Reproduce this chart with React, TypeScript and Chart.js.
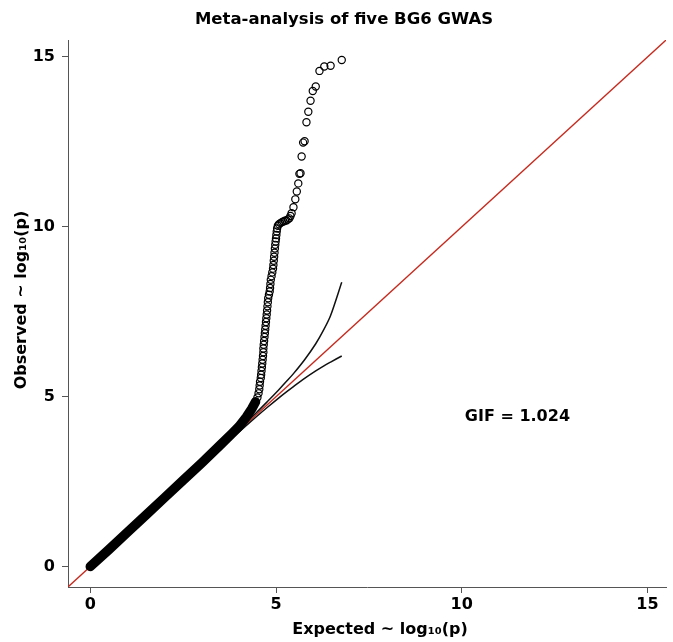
import React, { useEffect, useRef } from "react";
import { Chart, registerables } from "chart.js";

Chart.register(...registerables);

const TITLE = "Meta-analysis of five BG6 GWAS";
const X_TITLE = "Expected ~ log\u2081\u2080(p)";
const Y_TITLE = "Observed ~ log\u2081\u2080(p)";
const GIF_LABEL = "GIF = 1.024";
const GIF_POS = [11.5, 4.41];

const tickValues = [0, 5, 10, 15];
const axisMin = -0.6;
const axisMax = 15.5;

// dense bulk of points (drawn as a thick band)
const bandExpected = [0, 0.5, 1, 1.5, 2, 2.5, 3, 3.5, 3.8, 4.0, 4.2, 4.35, 4.45];
const bandObserved = [0, 0.5, 1.01, 1.52, 2.03, 2.54, 3.05, 3.58, 3.9, 4.12, 4.4, 4.65, 4.85];

// individual points in the upper tail
const tailExpected = [
  4.45, 4.5, 4.53, 4.55, 4.56, 4.57, 4.59, 4.6, 4.61, 4.62, 4.63, 4.64, 4.65, 4.66, 4.66,
  4.67, 4.68, 4.69, 4.7, 4.71, 4.72, 4.73, 4.74, 4.75, 4.76, 4.77, 4.78, 4.79, 4.81, 4.83,
  4.84, 4.85, 4.86, 4.88, 4.9, 4.92, 4.93, 4.94, 4.95, 4.96, 4.97, 4.98, 4.99, 5.0, 5.01,
  5.02, 5.03, 5.05, 5.08, 5.12, 5.16, 5.2, 5.24, 5.28, 5.32, 5.36, 5.39, 5.42, 5.47, 5.52,
  5.56, 5.6, 5.63, 5.66, 5.69, 5.73, 5.77, 5.82, 5.87, 5.93, 5.99, 6.07, 6.17, 6.3, 6.47, 6.77,
];
const tailObserved = [
  4.85, 4.98, 5.1, 5.22, 5.33, 5.44, 5.55, 5.65, 5.76, 5.87, 5.98, 6.09, 6.2, 6.31, 6.42,
  6.53, 6.64, 6.76, 6.87, 6.98, 7.09, 7.2, 7.31, 7.42, 7.54, 7.66, 7.78, 7.9, 8.0, 8.1,
  8.2, 8.32, 8.44, 8.55, 8.66, 8.77, 8.88, 9.0, 9.12, 9.24, 9.36, 9.47, 9.57, 9.66, 9.76,
  9.86, 9.95, 10.03, 10.08, 10.11, 10.14, 10.16, 10.18, 10.19, 10.22, 10.25, 10.32, 10.4, 10.58, 10.81,
  11.04, 11.28, 11.56, 11.58, 12.07, 12.48, 12.52, 13.08, 13.39, 13.71, 14.0, 14.13, 14.59, 14.72, 14.74, 14.91,
];

// 95% confidence band
const ciExpected = [3.77, 4.47, 4.77, 5.07, 5.29, 5.47, 5.77, 6.07, 6.29, 6.47, 6.77];
const ciUpper = [3.8, 4.53, 4.86, 5.2, 5.46, 5.68, 6.09, 6.56, 6.98, 7.39, 8.37];
const ciLower = [3.74, 4.41, 4.69, 4.96, 5.15, 5.3, 5.54, 5.76, 5.91, 6.02, 6.2];

const diagonal = [axisMin, axisMax];

const FONT = "DejaVu Sans";

const zip = (xs: number[], ys: number[]) => xs.map((x, i) => ({ x, y: ys[i] }));

const textPlugin = {
  id: "texts",
  afterDraw(chart: any) {
    const ctx = chart.ctx;
    const xs = chart.scales.x;
    const ys = chart.scales.y;
    ctx.save();
    ctx.fillStyle = "#000";
    ctx.textAlign = "center";
    ctx.textBaseline = "middle";
    ctx.font = `bold 16.5px "${FONT}"`;
    ctx.fillText(TITLE, 344, 20);
    ctx.font = `bold 16px "${FONT}"`;
    ctx.fillText(X_TITLE, 380, 630);
    ctx.fillText(GIF_LABEL, xs.getPixelForValue(GIF_POS[0]), ys.getPixelForValue(GIF_POS[1]));
    ctx.translate(22, 300);
    ctx.rotate(-Math.PI / 2);
    ctx.fillText(Y_TITLE, 0, 0);
    ctx.restore();
  },
};

export default function App() {
  const ref = useRef<HTMLCanvasElement>(null);
  useEffect(() => {
    document.body.style.margin = "0";
    const axis = (position: string, isX: boolean) => ({
      type: "linear",
      position,
      min: axisMin,
      max: axisMax,
      afterBuildTicks: (s: any) => {
        s.ticks = tickValues.map((v) => ({ value: v }));
      },
      afterFit: (s: any) => {
        if (isX) s.height = 55;
        else s.width = 68;
      },
      grid: {
        display: true,
        drawOnChartArea: false,
        drawTicks: true,
        tickLength: 6,
        color: "#555",
        lineWidth: 1,
      },
      border: { display: true, color: "#555", width: 1 },
      ticks: {
        color: "#000",
        padding: isX ? 2 : 7,
        maxRotation: 0,
        font: { family: FONT, weight: "bold", size: 16 },
      },
      title: { display: false },
    });
    const chart = new Chart(ref.current!, {
      type: "scatter",
      data: {
        datasets: [
          {
            type: "scatter",
            data: zip(tailExpected, tailObserved),
            pointRadius: 3.6,
            pointBorderWidth: 1.2,
            borderColor: "#000",
            backgroundColor: "rgba(0,0,0,0)",
            pointBackgroundColor: "rgba(0,0,0,0)",
            pointBorderColor: "#000",
            order: 1,
          },
          {
            type: "line",
            data: zip(bandExpected, bandObserved),
            borderColor: "#000",
            borderWidth: 9.5,
            borderCapStyle: "round",
            borderJoinStyle: "round",
            pointRadius: 0,
            fill: false,
            tension: 0,
            order: 2,
          },
          {
            type: "line",
            data: zip(ciExpected, ciUpper),
            borderColor: "#111",
            borderWidth: 1.5,
            pointRadius: 0,
            fill: false,
            tension: 0.3,
            order: 3,
          },
          {
            type: "line",
            data: zip(ciExpected, ciLower),
            borderColor: "#111",
            borderWidth: 1.5,
            pointRadius: 0,
            fill: false,
            tension: 0.3,
            order: 4,
          },
          {
            type: "line",
            data: zip(diagonal, diagonal),
            borderColor: "#c52a1e",
            borderWidth: 1.3,
            pointRadius: 0,
            fill: false,
            order: 5,
          },
        ],
      } as any,
      options: {
        responsive: false,
        animation: false,
        layout: { padding: { top: 40, right: 7, left: 0, bottom: 0 } },
        plugins: {
          legend: { display: false },
          title: { display: false },
          tooltip: { enabled: false },
        },
        scales: {
          x: axis("bottom", true),
          y: axis("left", false),
        } as any,
      },
      plugins: [textPlugin],
    });
    return () => chart.destroy();
  }, []);
  return (
    <div style={{ position: "relative", width: 673, height: 642 }}>
      <canvas ref={ref} width={673} height={642} style={{ width: 673, height: 642 }} />
    </div>
  );
}
